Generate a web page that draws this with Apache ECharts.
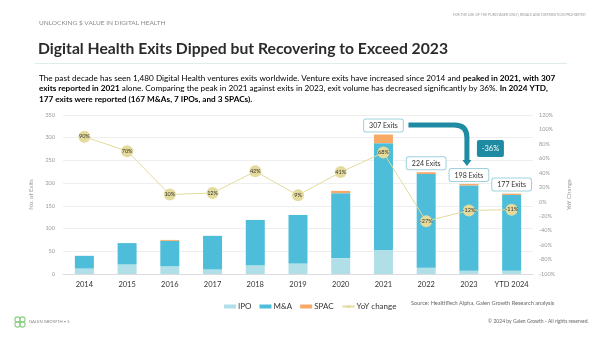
<!DOCTYPE html>
<html>
<head>
<meta charset="utf-8">
<script src="https://cdn.jsdelivr.net/npm/echarts@6/dist/echarts.min.js"></script>
<style>
  html, body { margin: 0; padding: 0; background: #fff; }
  #chart { width: 600px; height: 338px; }
</style>
</head>
<body>
<div id="chart"></div>
<script>
// Exit counts by year, split by exit type
const years = ['2014', '2015', '2016', '2017', '2018', '2019', '2020', '2021', '2022', '2023', 'YTD 2024'];
const ipo  = [12, 21, 17, 10, 19, 23, 35, 53, 14, 7, 7];
const ma   = [28, 47, 56, 74, 100, 107, 143, 235, 206, 188, 167];
const spac = [0, 0, 2, 0, 0, 0, 5, 19, 4, 3, 3];
// Year-over-year change in total exits (%)
const yoy  = [90, 70, 10, 12, 42, 9, 41, 68, -27, -12, -11];
// Years whose totals get a callout box
const calloutYears = ['2021', '2022', '2023', 'YTD 2024'];
const dropLabel = '-36%';

const totals = years.map((_, i) => ipo[i] + ma[i] + spac[i]);

const FONT = 'Lato, "Noto Sans", sans-serif';
const C_IPO = '#b1dfe8';
const C_MA = '#4dbdd9';
const C_SPAC = '#f7a965';
const C_YOY = '#e4da9c';
const C_TEAL = '#1f8ba2';

const chart = echarts.init(document.getElementById('chart'), null, { renderer: 'canvas' });

// SPAC sits on top of the stack, so it carries the total callouts
const spacData = spac.map((v, i) => {
  if (calloutYears.indexOf(years[i]) < 0) return v;
  return {
    value: v,
    label: {
      show: true,
      position: 'top',
      distance: 3,
      formatter: totals[i] + ' Exits',
      fontFamily: FONT,
      fontSize: 7,
      color: '#333',
      backgroundColor: '#fff',
      borderColor: '#9fd2de',
      borderWidth: 1,
      borderRadius: 2,
      padding: [3, 5, 2, 5]
    }
  };
});

const option = {
  animation: false,
  textStyle: { fontFamily: FONT },
  grid: { left: 63, right: 67, top: 115, bottom: 64, containLabel: false },
  legend: {
    left: 219,
    top: 297.5,
    itemWidth: 12,
    itemHeight: 4,
    itemGap: 8,
    textStyle: { fontFamily: FONT, fontSize: 8, color: '#333', padding: [0, 0, 0, -3] },
    data: [
      { name: 'IPO', icon: 'rect' },
      { name: 'M&A', icon: 'rect' },
      { name: 'SPAC', icon: 'rect' },
      { name: 'YoY change' }
    ]
  },
  xAxis: {
    type: 'category',
    data: years,
    axisTick: { show: false },
    axisLine: { lineStyle: { color: '#dcdcdc' } },
    axisLabel: { fontFamily: FONT, fontSize: 7.5, color: '#333', margin: 7, interval: 0 }
  },
  yAxis: [
    {
      type: 'value',
      min: 0, max: 350, interval: 50,
      name: 'No. of Exits',
      nameLocation: 'middle',
      nameGap: 13,
      nameTextStyle: { fontFamily: FONT, fontSize: 6, color: '#999' },
      axisLabel: { fontFamily: FONT, fontSize: 5.5, color: '#999', margin: 8 },
      splitLine: { lineStyle: { color: '#eeeeee' } },
      axisLine: { show: false },
      axisTick: { show: false }
    },
    {
      type: 'value',
      min: -100, max: 120, interval: 20,
      name: 'YoY Change',
      nameLocation: 'middle',
      nameGap: 22,
      nameRotate: 90,
      nameTextStyle: { fontFamily: FONT, fontSize: 6, color: '#999' },
      axisLabel: { fontFamily: FONT, fontSize: 5.5, color: '#999', margin: 6, formatter: '{value}%' },
      splitLine: { show: false },
      axisLine: { show: false },
      axisTick: { show: false }
    }
  ],
  series: [
    { name: 'IPO', type: 'bar', stack: 'exits', barWidth: 19, data: ipo,
      itemStyle: { color: C_IPO } },
    { name: 'M&A', type: 'bar', stack: 'exits', barWidth: 19, data: ma,
      itemStyle: { color: C_MA } },
    { name: 'SPAC', type: 'bar', stack: 'exits', barWidth: 19, data: spacData,
      itemStyle: { color: C_SPAC } },
    {
      name: 'YoY change', type: 'line', yAxisIndex: 1, data: yoy,
      symbol: 'circle', symbolSize: 12,
      lineStyle: { color: C_YOY, width: 1 },
      itemStyle: { color: C_YOY },
      label: {
        show: true, position: 'inside', formatter: '{c}%',
        fontFamily: FONT, fontSize: 5.5, color: '#333'
      },
      z: 5
    }
  ]
};

chart.setOption(option);

// Header, body copy, footer and the 2021 -> 2023 drop arrow
const i21 = years.indexOf('2021');
const i23 = years.indexOf('2023');
const p21 = chart.convertToPixel({ seriesIndex: 0 }, [i21, totals[i21]]);
const p23 = chart.convertToPixel({ seriesIndex: 0 }, [i23, totals[i23]]);
const boxH = 13;
const y0 = p21[1] - 3 - boxH / 2;          // centre line of the 2021 callout
const x0 = p21[0] + 25;                     // just right of the 2021 callout
const x1 = p23[0] - 2;                      // drop column
const yEnd = p23[1] - 3 - boxH - 2;         // top of the 2023 callout
const r = 12;

const body = { fontFamily: FONT, fontSize: 8.2, color: '#333' };
const bold = Object.assign({}, body, { fontWeight: 'bold' });

function txt(x, y, style) {
  return { type: 'text', x: x, y: y, style: Object.assign({ verticalAlign: 'middle' }, style) };
}

chart.setOption({
  graphic: [
    txt(39, 23, { text: 'UNLOCKING $ VALUE IN DIGITAL HEALTH', fontFamily: FONT, fontSize: 6.5, fill: '#8a8a8a' }),
    txt(453, 15, { text: 'FOR THE USE OF THE PURCHASER ONLY | RESALE AND DISTRIBUTION PROHIBITED', fontFamily: FONT, fontSize: 3.4, fill: '#999' }),
    txt(38, 48.5, { text: 'Digital Health Exits Dipped but Recovering to Exceed 2023', fontFamily: FONT, fontSize: 15.7, fontWeight: 'bold', fill: '#2b2b2b' }),
    { type: 'rect', shape: { x: 35, y: 63, width: 532, height: 1 }, style: { fill: '#dfeced' } },
    txt(39, 78, {
      rich: { n: body, b: bold },
      text: '{n|The past decade has seen 1,480 Digital Health ventures exits worldwide. Venture exits have increased since 2014 and }{b|peaked in 2021, with 307}'
    }),
    txt(39, 88.5, {
      rich: { n: body, b: bold },
      text: '{b|exits reported in 2021}{n| alone. Comparing the peak in 2021 against exits in 2023, exit volume has decreased significantly by 36%. }{b|In 2024 YTD,}'
    }),
    txt(39, 99, {
      rich: { b: bold },
      text: '{b|177 exits were reported (167 M&As, 7 IPOs, and 3 SPACs).}'
    }),
    txt(411, 303.5, { text: 'Source: HealthTech Alpha, Galen Growth Research analysis', fontFamily: FONT, fontSize: 5.6, fill: '#666' }),
    txt(488, 321.5, { text: '\u00A9 2024 by Galen Growth - All rights reserved.', fontFamily: FONT, fontSize: 5, fill: '#666' }),
    txt(29, 322, { text: 'GALEN GROWTH \u2022 5', fontFamily: FONT, fontSize: 4.2, fill: '#888' }),
    // small clover logo
    { type: 'circle', shape: { cx: 17.5, cy: 319.5, r: 2.6 }, style: { fill: 'none', stroke: '#8ccf86', lineWidth: 1.1 } },
    { type: 'circle', shape: { cx: 22.5, cy: 319.5, r: 2.6 }, style: { fill: 'none', stroke: '#8ccf86', lineWidth: 1.1 } },
    { type: 'circle', shape: { cx: 17.5, cy: 324.5, r: 2.6 }, style: { fill: 'none', stroke: '#8ccf86', lineWidth: 1.1 } },
    { type: 'circle', shape: { cx: 22.5, cy: 324.5, r: 2.6 }, style: { fill: 'none', stroke: '#8ccf86', lineWidth: 1.1 } },
    // 2021 -> 2023 drop arrow: straight run, rounded corner, drop
    { type: 'line', shape: { x1: x0, y1: y0, x2: x1 - r, y2: y0 },
      style: { stroke: C_TEAL, lineWidth: 5 }, z: 10 },
    { type: 'bezierCurve', shape: { x1: x1 - r - 0.5, y1: y0, x2: x1, y2: y0 + r + 0.5, cpx1: x1, cpy1: y0 },
      style: { stroke: C_TEAL, lineWidth: 5, fill: 'none' }, z: 10 },
    { type: 'line', shape: { x1: x1, y1: y0 + r, x2: x1, y2: yEnd - 5 },
      style: { stroke: C_TEAL, lineWidth: 5 }, z: 10 },
    { type: 'polygon', shape: { points: [[x1 - 4.5, yEnd - 6], [x1 + 4.5, yEnd - 6], [x1, yEnd]] },
      style: { fill: C_TEAL }, z: 10 },
    { type: 'rect', shape: { x: p23[0] + 8, y: y0 + 15, width: 27, height: 17, r: 2 },
      style: { fill: C_TEAL }, z: 10 },
    { type: 'text', x: p23[0] + 21.5, y: y0 + 23.5,
      style: { text: dropLabel, fontFamily: FONT, fontSize: 7.5, fill: '#fff', align: 'center', verticalAlign: 'middle' }, z: 11 }
  ]
});
</script>
</body>
</html>
